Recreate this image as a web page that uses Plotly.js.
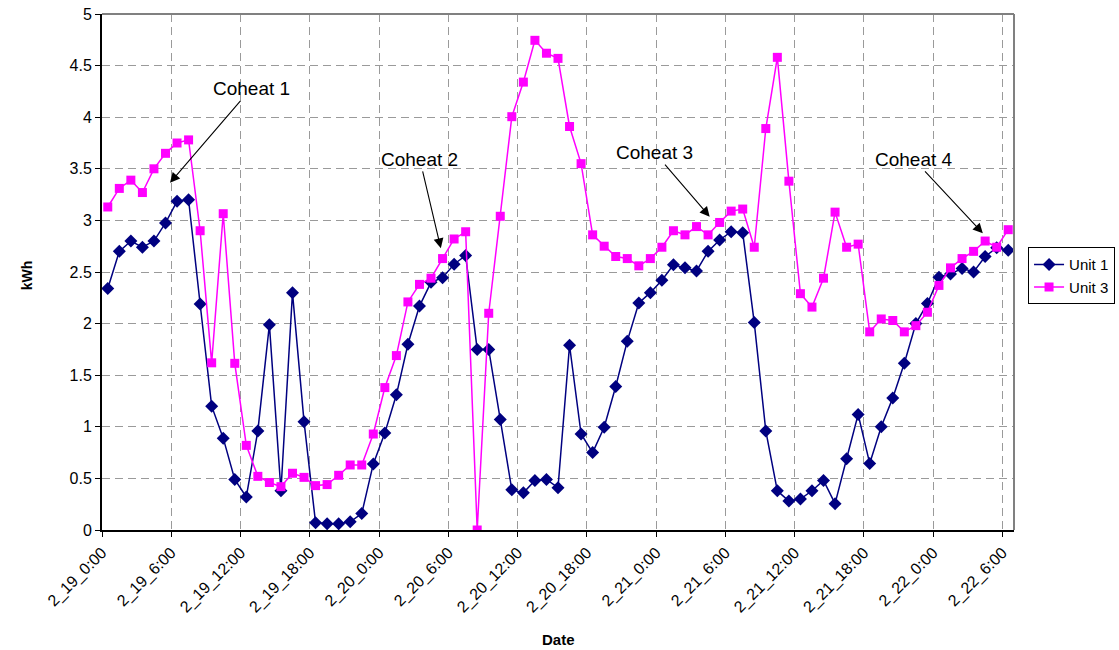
<!DOCTYPE html>
<html>
<head>
<meta charset="utf-8">
<script src="https://cdn.plot.ly/plotly-3.0.1.min.js"></script>
<style>html,body{margin:0;padding:0;background:#fff;}#chart{width:1119px;height:650px;}</style>
</head>
<body>
<div id="chart"></div>
<script>
const unit1 = [2.34,2.70,2.80,2.74,2.80,2.975,3.185,3.20,2.19,1.20,0.89,0.49,0.32,0.96,1.99,0.38,2.30,1.05,0.07,0.06,0.06,0.08,0.16,0.64,0.94,1.31,1.80,2.17,2.40,2.445,2.575,2.66,1.75,1.75,1.07,0.39,0.36,0.48,0.49,0.41,1.79,0.93,0.75,0.995,1.39,1.83,2.20,2.30,2.42,2.57,2.54,2.51,2.70,2.81,2.89,2.88,2.01,0.96,0.38,0.28,0.30,0.38,0.48,0.255,0.69,1.12,0.645,1.00,1.28,1.615,2.00,2.195,2.45,2.48,2.535,2.50,2.65,2.735,2.71];
const unit3 = [3.13,3.31,3.39,3.27,3.50,3.65,3.75,3.78,2.90,1.62,3.065,1.615,0.82,0.52,0.46,0.42,0.55,0.51,0.43,0.44,0.53,0.63,0.63,0.93,1.38,1.69,2.21,2.38,2.44,2.63,2.82,2.89,0.00,2.10,3.04,4.005,4.34,4.745,4.62,4.57,3.91,3.55,2.86,2.75,2.65,2.63,2.56,2.63,2.74,2.90,2.86,2.94,2.86,2.98,3.09,3.11,2.74,3.89,4.58,3.38,2.29,2.16,2.44,3.08,2.74,2.77,1.92,2.045,2.03,1.92,1.98,2.11,2.37,2.54,2.63,2.70,2.80,2.74,2.91];
const tickLabels = ["2_19_0:00","2_19_6:00","2_19_12:00","2_19_18:00","2_20_0:00","2_20_6:00","2_20_12:00","2_20_18:00","2_21_0:00","2_21_6:00","2_21_12:00","2_21_18:00","2_22_0:00","2_22_6:00"];
const annLabels = ["Coheat 1","Coheat 2","Coheat 3","Coheat 4"];
const annX = [5.39,28.85,52.14,75.8];
const annY = [3.365,2.73,3.036,2.875];
const annAx = [81,-21,-55,-69];
const annAy = [-94,-89,-64,-74];

const idx = unit1.map((_, i) => i);
const tickVals = tickLabels.map((_, k) => k * 6 - 0.5);
const FONT = "Liberation Sans, Arial, sans-serif";

const traces = [
  {x: idx, y: unit1, name: "Unit 1", type: "scatter", mode: "lines+markers",
   line: {color: "#000080", width: 1.5},
   marker: {symbol: "diamond", size: 10, color: "#000080"}},
  {x: idx, y: unit3, name: "Unit 3", type: "scatter", mode: "lines+markers",
   line: {color: "#FF00FF", width: 1.5},
   marker: {symbol: "square", size: 9, color: "#FF00FF"}}
];

const annotations = annLabels.map((t, k) => ({
  x: annX[k], y: annY[k], xref: "x", yref: "y", text: t,
  showarrow: true, ax: annAx[k], ay: annAy[k], arrowhead: 2, arrowsize: 1.8,
  arrowwidth: 1.1, arrowcolor: "#000", font: {family: FONT, size: 19, color: "#000"}
}));
annotations.push({xref: "paper", yref: "paper", x: -0.093, y: 0.494, text: "<b>kWh</b>",
  showarrow: false, textangle: -90, font: {family: FONT, size: 14, color: "#000"}});
annotations.push({xref: "paper", yref: "paper", x: 0.5, y: -0.213, yanchor: "middle", text: "<b>Date</b>",
  showarrow: false, font: {family: FONT, size: 15, color: "#000"}});

const layout = {
  width: 1119, height: 650,
  margin: {l: 102, r: 105, t: 14, b: 120, autoexpand: false},
  paper_bgcolor: "#fff", plot_bgcolor: "#fff",
  font: {family: FONT, size: 15, color: "#000"},
  showlegend: true,
  legend: {x: 1.0154, y: 0.548, xanchor: "left", yanchor: "top",
    bordercolor: "#000", borderwidth: 1, font: {family: FONT, size: 15, color: "#000"},
    tracegroupgap: 2},
  xaxis: {range: [-0.5, 78.5], tickmode: "array", tickvals: tickVals, ticktext: tickLabels,
    tickangle: -45, showgrid: true, gridcolor: "#9a9a9a", griddash: "8px,5px", gridwidth: 1,
    showline: true, linecolor: "#000", linewidth: 2, ticks: "outside", ticklen: 5,
    tickcolor: "#000", zeroline: false, automargin: false, tickfont: {family: FONT, size: 16}},
  yaxis: {range: [0, 5], dtick: 0.5, tick0: 0, showgrid: true, gridcolor: "#9a9a9a",
    griddash: "8px,5px", gridwidth: 1, showline: true, linecolor: "#000", linewidth: 2,
    ticks: "outside", ticklen: 5, tickcolor: "#000", zeroline: false, automargin: false,
    tickfont: {family: FONT, size: 16}},
  shapes: [
    {type: "line", xref: "paper", yref: "paper", x0: 0, x1: 1, y0: 1, y1: 1, line: {color: "#808080", width: 2}},
    {type: "line", xref: "paper", yref: "paper", x0: 1, x1: 1, y0: 0, y1: 1, line: {color: "#808080", width: 2}}
  ],
  annotations: annotations
};

Plotly.newPlot("chart", traces, layout, {displayModeBar: false, staticPlot: true});
</script>
</body>
</html>
